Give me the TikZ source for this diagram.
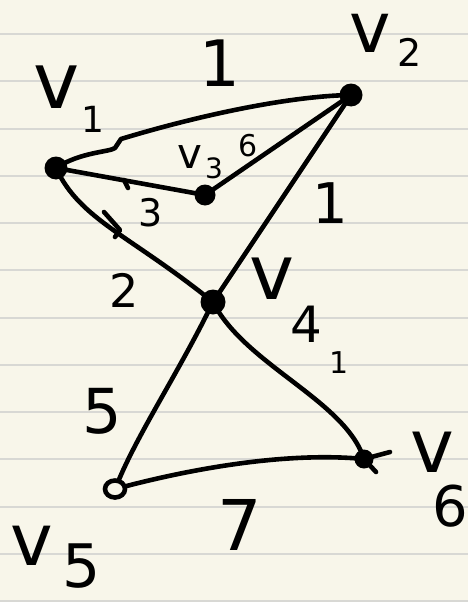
\documentclass[tikz,border=0pt]{standalone}
\usepackage{fontspec}
\usetikzlibrary{shapes.geometric}
\setmainfont{DejaVu Sans}
\definecolor{paper}{RGB}{248,246,234}
\definecolor{rule}{RGB}{216,216,212}
\newcommand{\fs}[1]{\fontsize{#1}{#1}\selectfont}
\begin{document}
\begin{tikzpicture}[x=1pt,y=-1pt,
  ink/.style={line width=4.6pt,line cap=round,line join=round,black},
  blob/.style={circle,fill=black,inner sep=0pt,minimum size=#1},
  ring/.style={ellipse,draw=black,line width=4.6pt,inner sep=0pt,minimum width=20pt,minimum height=17pt},
  lab/.style={inner sep=0pt,anchor=center,text=black}]
\useasboundingbox (0,0) rectangle (468,602);
\fill[paper] (0,0) rectangle (468,602);
\foreach \k in {0,...,12}{\draw[rule,line width=2pt] (0,{34+47.25*\k}) -- (468,{34+47.25*\k});}
% vertices
\node[blob=23pt] (v1) at (56,168) {};
\node[blob=23pt] (v2) at (351,95) {};
\node[blob=21pt] (v3) at (205,195) {};
\node[blob=25pt] (v4) at (213,302) {};
\node[ring] (v5) at (115,489) {};
\node[blob=19pt] (v6) at (364,459) {};
% helper points
\coordinate (k1) at (115,148);
\coordinate (k2) at (121,139);
\coordinate (e6) at (390,452);
% edges
\draw[ink] (v1.center) .. controls (80,152) and (110,152) .. (k1) -- (k2) .. controls (200,115) and (290,96) .. (v2.center);
\draw[ink] (v1.center) -- (v3.center);
\draw[ink] (v3.center) -- (v2.center);
\draw[ink] (v1.center) .. controls (80,220) and (130,235) .. (v4.center);
\draw[ink] (v2.center) -- (v4.center);
\draw[ink] (v4.center) .. controls (180,370) and (140,430) .. (v5);
\draw[ink] (v4.center) .. controls (245,365) and (345,400) .. (v6.center);
\draw[ink] (v5) .. controls (200,467) and (290,452) .. (v6.center) -- (e6);
% small strokes
\coordinate (t1) at (104,212); \coordinate (t2) at (120,230); \coordinate (t3) at (115,237);
\draw[ink] (t1) -- (t2) -- (t3);
\coordinate (t4) at (124,180); \coordinate (t5) at (128,188);
\draw[ink] (t4) -- (t5);
\coordinate (t6) at (364,459); \coordinate (t7) at (376,472);
\draw[ink] (t6) -- (t7);
% vertex labels
\node[lab] (lv1) at (57,87) {\fs{78}v};
\node[lab] (lv1s) at (93,119) {\fs{36}1};
\node[lab] (lv2) at (370,33) {\fs{70}v};
\node[lab] (lv2s) at (410,52) {\fs{38}2};
\node[lab] (lv3) at (190,157) {\fs{42}v};
\node[lab] (lv3s) at (214,168) {\fs{28}3};
\node[lab] (lv4) at (272,279) {\fs{76}v};
\node[lab] (lv4s) at (306,324) {\fs{50}4};
\node[lab] (lv5) at (32,546) {\fs{72}v};
\node[lab] (lv5s) at (82,566) {\fs{60}5};
\node[lab] (lv6) at (432,452) {\fs{74}v};
\node[lab] (lv6s) at (450,506) {\fs{56}6};
% edge labels
\node[lab] (w12) at (220,63) {\fs{64}1};
\node[lab] (w32) at (248,146) {\fs{30}6};
\node[lab] (w13) at (151,213) {\fs{38}3};
\node[lab] (w14) at (124,290) {\fs{46}2};
\node[lab] (w24) at (330,203) {\fs{56}1};
\node[lab] (w46) at (339,363) {\fs{30}1};
\node[lab] (w45) at (102,411) {\fs{62}5};
\node[lab] (w56) at (240,525) {\fs{70}7};
\end{tikzpicture}
\end{document}
